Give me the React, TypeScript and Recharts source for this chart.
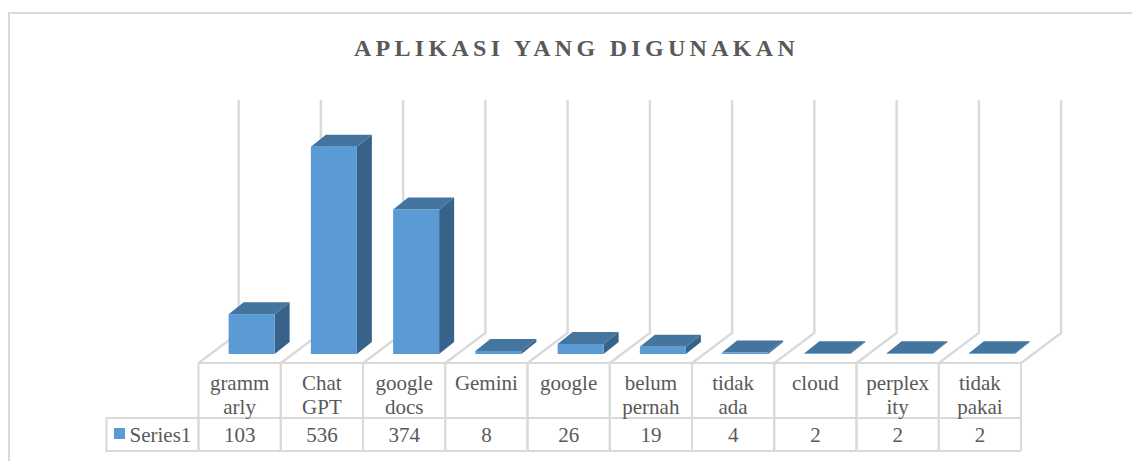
import React from "react";
import { BarChart, Bar, XAxis, YAxis, Customized } from "recharts";

const categories = [
  ["gramm", "arly"],
  ["Chat", "GPT"],
  ["google", "docs"],
  ["Gemini"],
  ["google"],
  ["belum", "pernah"],
  ["tidak", "ada"],
  ["cloud"],
  ["perplex", "ity"],
  ["tidak", "pakai"],
];
const values = [103, 536, 374, 8, 26, 19, 4, 2, 2, 2];
const seriesName = "Series1";
const titleText = "APLIKASI YANG DIGUNAKAN";
const rows = categories.map((c, i) => ({ name: c.join(" "), lines: c, value: values[i] }));

const W = 1132, H = 461;
const BAND = 82.25;
const FLOOR_Y = 363, ROW_Y = 418, BOTTOM_Y = 451, LEFT_CELL = 106.5;
const GRID = "#d9d9d9", TXT = "#595959";
const FONT = "'Liberation Serif', serif";
const BAR_W = 46;

// Wall line + floor diagonal behind the bars
const Backdrop = (p: any) => {
  const left = p.x - 30; // front-left corner of the category
  const wall = (x: number, k: string) => (
    <polyline key={k} points={`${x},${FLOOR_Y} ${x + 40},333 ${x + 40},100`} fill="none" stroke={GRID} strokeWidth={2.4} />
  );
  return (
    <g>
      {wall(left, "a")}
      {p.index === rows.length - 1 ? wall(left + BAND, "b") : null}
    </g>
  );
};

const Bar3D = (p: any) => {
  const { x, y, width, height } = p;
  const dx = 15, dy = 12;
  return (
    <g>
      <polygon points={`${x + width},${y} ${x + width + dx},${y - dy} ${x + width + dx},${y + height - dy} ${x + width},${y + height}`} fill="#37638a" />
      <polygon points={`${x},${y} ${x + dx},${y - dy} ${x + width + dx},${y - dy} ${x + width},${y}`} fill="#44759f" />
      <rect x={x} y={y} width={width} height={height} fill="#5b9bd5" />
    </g>
  );
};

const TableTick = (p: any) => {
  const i = p.index as number;
  const row = rows[i];
  const cx = p.x - 12;
  const l = cx - BAND / 2, r = cx + BAND / 2;
  const t = { textAnchor: "middle" as const, fontFamily: FONT, fontSize: 21, fill: TXT };
  return (
    <g>
      <line x1={l} x2={l} y1={FLOOR_Y} y2={BOTTOM_Y} stroke={GRID} strokeWidth={2} />
      <line x1={r} x2={r} y1={FLOOR_Y} y2={BOTTOM_Y} stroke={GRID} strokeWidth={2} />
      <line x1={l} x2={r} y1={FLOOR_Y} y2={FLOOR_Y} stroke={GRID} strokeWidth={2} />
      <line x1={l} x2={r} y1={ROW_Y} y2={ROW_Y} stroke={GRID} strokeWidth={2} />
      <line x1={l} x2={r} y1={BOTTOM_Y} y2={BOTTOM_Y} stroke={GRID} strokeWidth={2} />
      {row.lines.map((s, k) => (
        <text key={k} x={cx} y={389.5 + k * 24.5} {...t}>{s}</text>
      ))}
      <text x={cx} y={441.5} {...t}>{row.value}</text>
      {i === 0 ? (
        <g>
          <rect x={LEFT_CELL} y={ROW_Y} width={l - LEFT_CELL} height={BOTTOM_Y - ROW_Y} fill="none" stroke={GRID} strokeWidth={2} />
          <rect x={114} y={428} width={11} height={11} fill="#5b9bd5" />
          <text x={129.5} y={441.5} fontFamily={FONT} fontSize={21} fill={TXT}>{seriesName}</text>
        </g>
      ) : null}
    </g>
  );
};

const Title = () => (
  <text x={576.5} y={56} textAnchor="middle" fontFamily={FONT} fontSize={24} fontWeight="bold" letterSpacing={4.3} fill={TXT}>{titleText}</text>
);

export default function App() {
  return (
    <div style={{ position: "absolute", left: 0, top: 0, width: W, height: H, background: "#fff", overflow: "hidden" }}>
      <div style={{ position: "absolute", left: 8, top: 12, width: W, height: H, borderLeft: `2px solid ${GRID}`, borderTop: `2px solid ${GRID}` }} />
      <BarChart
        width={W}
        height={H}
        data={rows}
        margin={{ top: 122, bottom: 0, left: 210.5, right: W - 210.5 - BAND * 10 }}
        barCategoryGap={(BAND - BAR_W) / 2}
        style={{ position: "absolute", left: 0, top: 0 }}
      >
        <Customized component={Title} />
        <XAxis dataKey="name" axisLine={false} tickLine={false} interval={0} height={H - 354} tick={TableTick} />
        <YAxis hide domain={[0, 600]} />
        <Bar dataKey="value" name={seriesName} isAnimationActive={false} shape={Bar3D} background={Backdrop} />
      </BarChart>
    </div>
  );
}
